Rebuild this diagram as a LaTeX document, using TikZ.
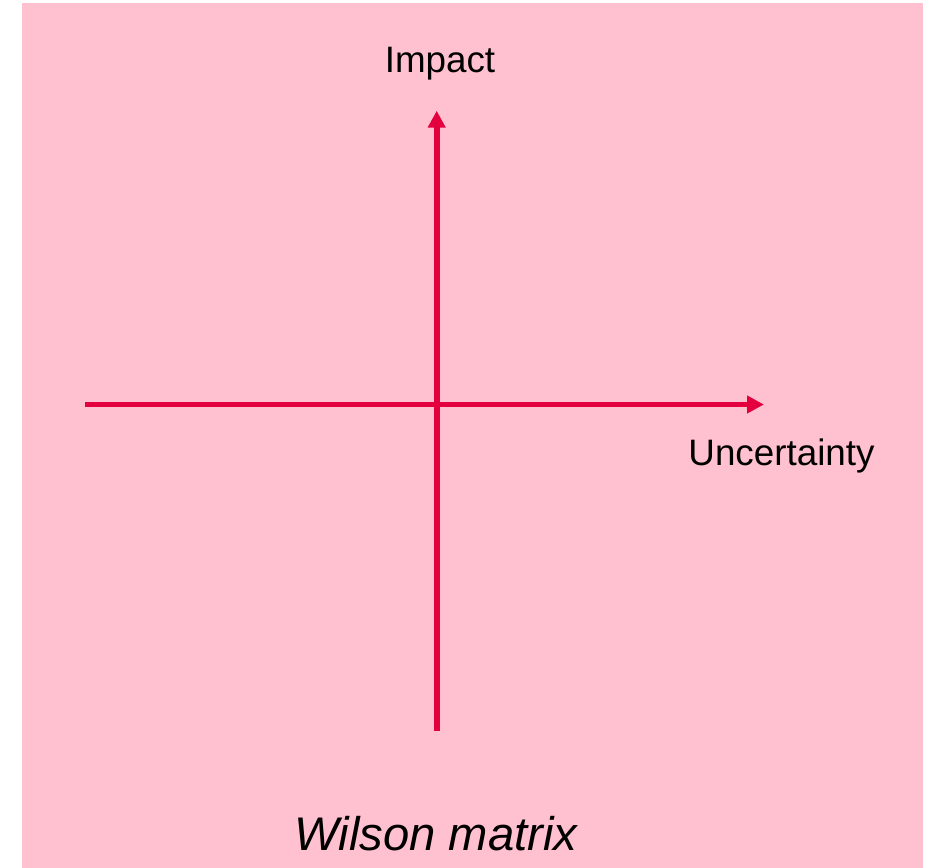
\documentclass[tikz,border=0pt]{standalone}
\usepackage{fontspec}
\setmainfont{Liberation Sans}
\usetikzlibrary{arrows.meta}
\definecolor{bgpink}{RGB}{255,193,207}
\definecolor{axisred}{RGB}{228,0,62}
\begin{document}
\begin{tikzpicture}[x=1pt,y=-1pt,
  axis/.style={draw=axisred,line width=5.6pt},
  axisarrow/.style={axis,-{Triangle[length=17pt,width=17pt]}},
  lbl/.style={anchor=base,inner sep=0pt,font=\fontsize{36.8}{40}\selectfont},
  ttl/.style={anchor=base,inner sep=0pt,font=\fontsize{47.2}{52}\selectfont\itshape}]
\useasboundingbox (0,0) rectangle (930,868);
\fill[white] (0,0) rectangle (930,868);
\fill[bgpink] (22,3) rectangle (923,868);
\coordinate (hstart) at (85,404.5);
\coordinate (hend) at (764,404.5);
\coordinate (vstart) at (436.7,730.7);
\coordinate (vend) at (436.7,110.7);
\draw[axisarrow] (hstart) -- (hend);
\draw[axisarrow] (vstart) -- (vend);
\node[lbl] (impact) at (440,72.7) {Impact};
\node[lbl] (uncert) at (781.5,465.7) {Uncertainty};
\node[ttl] (title) at (436,850) {Wilson matrix};
\end{tikzpicture}
\end{document}
